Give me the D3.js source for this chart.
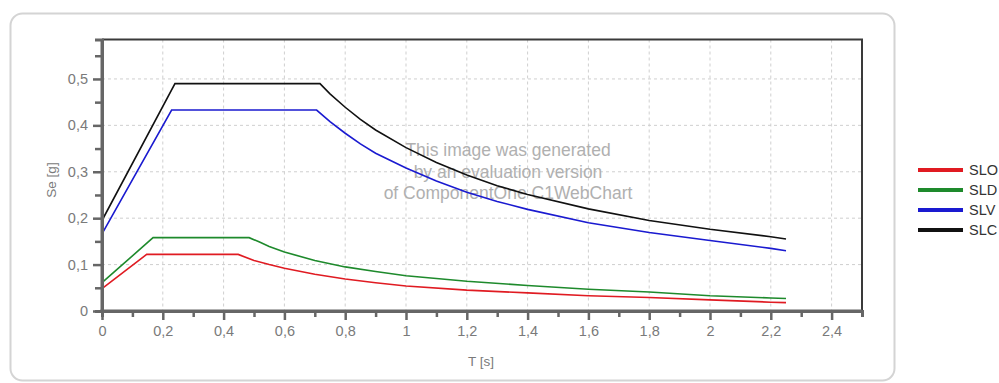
<!DOCTYPE html>
<html>
<head>
<meta charset="utf-8">
<script src="https://cdn.jsdelivr.net/npm/d3@7"></script>
<style>
  body { margin: 0; background: #fff; }
  svg { display: block; font-family: "Liberation Sans", Arial, sans-serif; }
</style>
</head>
<body>
<svg id="chart" width="999" height="383"></svg>
<script>
// spettri di risposta elastici (T [s], Se [g])
const seriesNames = ["SLO", "SLD", "SLV", "SLC"];
const seriesColors = ["#e01b22", "#1e8a2c", "#1a1ad0", "#111111"];

const sloData = [[0, 0.048], [0.147, 0.122], [0.448, 0.122], [0.5, 0.109], [0.55, 0.1], [0.6, 0.092], [0.7, 0.079],
  [0.8, 0.069], [0.9, 0.061], [1.0, 0.054], [1.2, 0.045], [1.4, 0.039], [1.6, 0.033], [1.8, 0.029],
  [2.0, 0.024], [2.2, 0.019], [2.25, 0.018]];
const sldData = [[0, 0.061], [0.168, 0.158], [0.484, 0.158], [0.52, 0.148], [0.55, 0.139], [0.6, 0.127], [0.7, 0.109],
  [0.8, 0.095], [0.9, 0.085], [1.0, 0.076], [1.2, 0.064], [1.4, 0.055], [1.6, 0.047], [1.8, 0.041],
  [2.0, 0.033], [2.2, 0.028], [2.25, 0.027]];
const slvData = [[0, 0.166], [0.229, 0.433], [0.706, 0.433], [0.75, 0.408], [0.8, 0.383], [0.85, 0.36], [0.9, 0.34],
  [1.0, 0.308], [1.1, 0.28], [1.2, 0.256], [1.3, 0.236], [1.4, 0.219], [1.6, 0.19], [1.8, 0.169], [2.0, 0.152],
  [2.2, 0.135], [2.25, 0.130]];
const slcData = [[0, 0.195], [0.24, 0.49], [0.717, 0.49], [0.75, 0.468], [0.8, 0.439], [0.85, 0.413], [0.9, 0.39],
  [1.0, 0.352], [1.1, 0.32], [1.2, 0.293], [1.3, 0.27], [1.4, 0.251], [1.6, 0.22], [1.8, 0.195], [2.0, 0.176],
  [2.2, 0.16], [2.25, 0.155]];
const allSeries = [sloData, sldData, slvData, slcData];

const xTicks = [0, 0.2, 0.4, 0.6, 0.8, 1, 1.2, 1.4, 1.6, 1.8, 2, 2.2, 2.4];
const xMinor = [0.1, 0.3, 0.5, 0.7, 0.9, 1.1, 1.3, 1.5, 1.7, 1.9, 2.1, 2.3, 2.5];
const yTicks = [0, 0.1, 0.2, 0.3, 0.4, 0.5];
const yMinor = [0.05, 0.15, 0.25, 0.35, 0.45, 0.55];
const watermark = ["This image was generated", "by an evaluation version", "of ComponentOne C1WebChart"];

const svg = d3.select("#chart");
const fmt = d => String(+d.toFixed(2)).replace(".", ",");

// riquadro arrotondato
svg.append("rect")
  .attr("x", 10.5).attr("y", 13.5).attr("width", 884).attr("height", 367)
  .attr("rx", 12).attr("fill", "#fff").attr("stroke", "#d4d4d4").attr("stroke-width", 2);

const plot = { left: 102, right: 862, top: 39.5, bottom: 311 };
const x = d3.scaleLinear().domain([0, 2.5]).range([plot.left, plot.right]);
const y = d3.scaleLinear().domain([0, 0.585]).range([plot.bottom, plot.top]);

// griglia
const grid = svg.append("g").attr("stroke", "#cfcfcf").attr("stroke-dasharray", "3,3").attr("stroke-width", 1);
grid.selectAll(".gx").data(xTicks.filter(d => d > 0)).enter().append("line")
  .attr("x1", d => x(d)).attr("x2", d => x(d)).attr("y1", plot.top).attr("y2", plot.bottom);
grid.selectAll(".gy").data(yTicks.filter(d => d > 0)).enter().append("line")
  .attr("x1", plot.left).attr("x2", plot.right).attr("y1", d => y(d)).attr("y2", d => y(d));

// bordo alto e destro
svg.append("path")
  .attr("d", `M${plot.left},${plot.top}H${plot.right}V${plot.bottom}`)
  .attr("fill", "none").attr("stroke", "#3a3a3a").attr("stroke-width", 2);

// watermark
svg.append("g").selectAll("text").data(watermark).enter().append("text")
  .attr("x", 508).attr("y", (d, i) => 156 + i * 21.5)
  .attr("text-anchor", "middle").attr("font-size", 17.5).attr("fill", "#b0b0b0")
  .text(d => d);

// curve
const line = d3.line().x(d => x(d[0])).y(d => y(d[1]));
svg.append("g").selectAll("path").data(allSeries).enter().append("path")
  .attr("d", line).attr("fill", "none")
  .attr("stroke", (d, i) => seriesColors[i]).attr("stroke-width", 1.6);

// assi
const axisY = svg.append("g").attr("transform", `translate(${plot.left},0)`)
  .call(d3.axisLeft(y).tickValues(yTicks).tickSize(9).tickPadding(5).tickFormat(fmt));
svg.append("g").attr("transform", `translate(${plot.left},0)`)
  .call(d3.axisLeft(y).tickValues(yMinor).tickSize(7).tickFormat(""));
const axisX = svg.append("g").attr("transform", `translate(0,${plot.bottom})`)
  .call(d3.axisBottom(x).tickValues(xTicks).tickSize(9).tickPadding(6).tickFormat(fmt));
svg.append("g").attr("transform", `translate(0,${plot.bottom})`)
  .call(d3.axisBottom(x).tickValues(xMinor).tickSize(6).tickFormat(""));

svg.selectAll(".domain").attr("stroke", "#666").attr("stroke-width", 3);
svg.selectAll(".tick line").attr("stroke", "#666").attr("stroke-width", 2.5);
svg.selectAll(".tick text").attr("fill", "#7a7a7a").attr("font-size", 14.5)
  .attr("font-family", "Liberation Sans, Arial, sans-serif");
svg.selectAll(".domain").filter(function () { return this.parentNode === axisY.node(); })
  .attr("d", `M0,${plot.top}V${plot.bottom}`);
axisX.select(".domain").attr("d", `M${plot.left - 1.5},0H${plot.right}`);

// titoli assi
svg.append("text").attr("transform", "translate(56,180) rotate(-90)")
  .attr("text-anchor", "middle").attr("font-size", 13.5).attr("fill", "#7a7a7a").text("Se [g]");
svg.append("text").attr("x", 481).attr("y", 366)
  .attr("text-anchor", "middle").attr("font-size", 13.5).attr("fill", "#7a7a7a").text("T [s]");

// legenda
const legend = svg.append("g").selectAll("g").data(seriesNames).enter().append("g")
  .attr("transform", (d, i) => `translate(918,${170 + i * 20})`);
legend.append("line").attr("x1", 0).attr("x2", 45)
  .attr("stroke", (d, i) => seriesColors[i]).attr("stroke-width", 4);
legend.append("text").attr("x", 51).attr("dy", "0.36em")
  .attr("font-size", 14.5).attr("fill", "#333").text(d => d);
</script>
</body>
</html>
